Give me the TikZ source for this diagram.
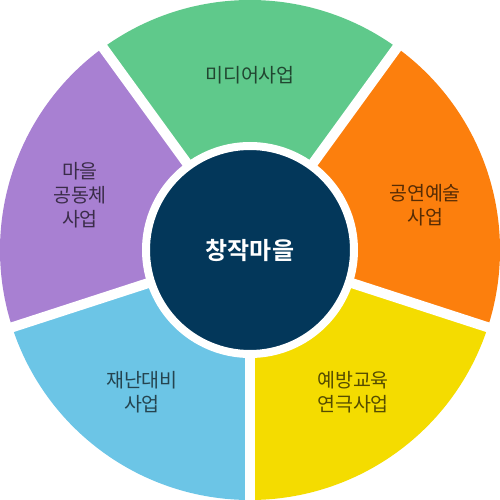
\documentclass[tikz,border=0pt]{standalone}
\usepackage{fontspec}
\newfontfamily\krfont{Noto Sans CJK KR}[BoldFont={* Bold}]
\usepackage{xcolor}
\usepackage{tikz}
\definecolor{mediagreen}{HTML}{5FC98B}
\definecolor{stageorange}{HTML}{FC7F0D}
\definecolor{dramayellow}{HTML}{F4DC00}
\definecolor{safetyblue}{HTML}{6CC5E6}
\definecolor{villagepurple}{HTML}{A880D2}
\definecolor{hubnavy}{HTML}{03375A}

\begin{document}
\begin{tikzpicture}[
    x=1pt,y=1pt,
    gap/.style={draw=white,line width=10pt},
    seglabel/.style={font=\krfont\fontsize{19.5}{24}\selectfont,text=black,
      text opacity=0.65,align=center},
    hub/.style={circle,fill=hubnavy,draw=white,line width=8pt,
      minimum size=208pt,inner sep=0pt,text=white,
      font=\krfont\bfseries\fontsize{24}{28}\selectfont}
  ]
    \useasboundingbox (-250,-250) rectangle (250,250);

    % five sectors of the wheel
    \foreach \start/\col in {54/mediagreen,126/villagepurple,198/safetyblue,
        270/dramayellow,342/stageorange}
      \fill[\col] (0,0) -- (\start:250)
        arc[start angle=\start,end angle=\start+72,radius=250] -- cycle;

    % white gaps between the sectors
    \foreach \a in {54,126,198,270,342}
      \draw[gap] (0,0) -- (\a:252);

    % centre
    \node[hub] (hub) at (0,0) {창작마을};

    % sector labels
    \node[seglabel] (media) at (0,175) {미디어사업};
    \node[seglabel] (stage) at (175,45) {공연예술\\사업};
    \node[seglabel] (drama) at (103,-142) {예방교육\\연극사업};
    \node[seglabel] (safety) at (-108,-142) {재난대비\\사업};
    \node[seglabel] (village) at (-170,55) {마을\\공동체\\사업};
  \end{tikzpicture}
\end{document}
